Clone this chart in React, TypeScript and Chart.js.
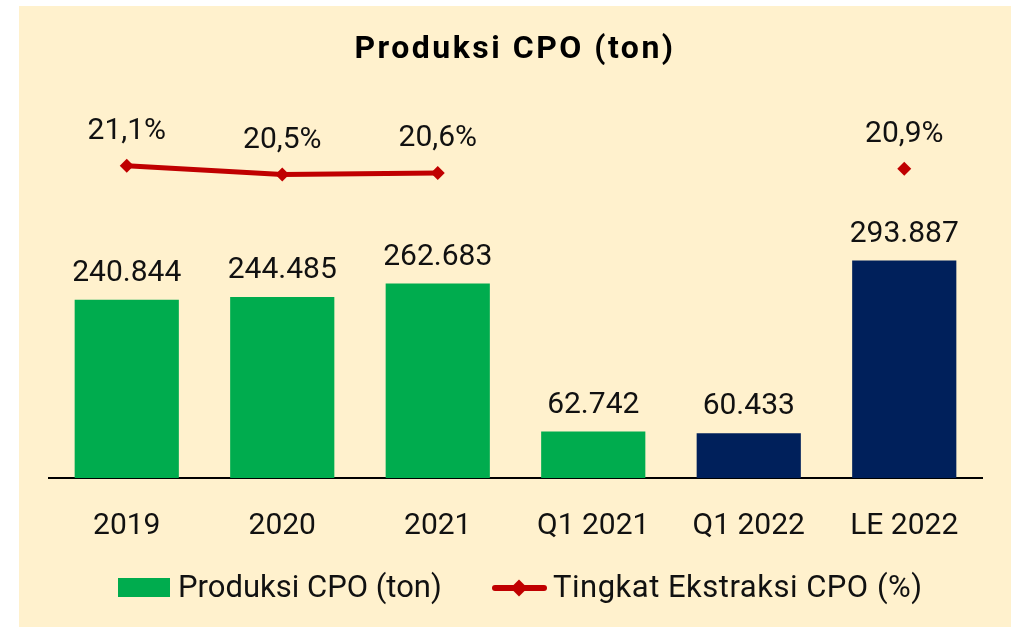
import React, { useEffect, useRef } from "react";
import { Chart, registerables } from "chart.js";

Chart.register(...registerables);

const categories = ["2019", "2020", "2021", "Q1 2021", "Q1 2022", "LE 2022"];
const produksi = [240844, 244485, 262683, 62742, 60433, 293887];
const produksiLabels = ["240.844", "244.485", "262.683", "62.742", "60.433", "293.887"];
const ekstraksi = [21.1, 20.5, 20.6, null, null, 20.9];
const ekstraksiLabels = ["21,1%", "20,5%", "20,6%", "", "", "20,9%"];
const barColors = ["#00AC4E", "#00AC4E", "#00AC4E", "#00AC4E", "#00205B", "#00205B"];

const FONT = "Roboto, 'Noto Sans', sans-serif";
const RED = "#C00000";
const CREAM = "#FFF1CD";

const labelPlugin = {
  id: "valueLabels",
  afterDatasetsDraw(chart: any) {
    const ctx = chart.ctx;
    ctx.save();
    ctx.font = `30px ${FONT}`;
    ctx.fillStyle = "#111";
    ctx.textAlign = "center";
    ctx.textBaseline = "alphabetic";
    const barMeta = chart.getDatasetMeta(0);
    barMeta.data.forEach((el: any, i: number) => {
      ctx.fillText(produksiLabels[i], el.x, el.y - 19);
    });
    const lineMeta = chart.getDatasetMeta(1);
    lineMeta.data.forEach((el: any, i: number) => {
      if (ekstraksi[i] == null) return;
      ctx.fillText(ekstraksiLabels[i], el.x, el.y - 27);
    });
    ctx.restore();
  },
};

export default function App() {
  const ref = useRef<HTMLCanvasElement>(null);
  useEffect(() => {
    if (!ref.current) return;
    const chart = new Chart(ref.current, {
      type: "bar",
      data: {
        labels: categories,
        datasets: [
          {
            type: "bar",
            label: "Produksi CPO (ton)",
            data: produksi,
            backgroundColor: barColors,
            yAxisID: "y",
            categoryPercentage: 1,
            barPercentage: 0.67,
            order: 2,
          },
          {
            type: "line",
            label: "Tingkat Ekstraksi CPO (%)",
            data: ekstraksi as any,
            borderColor: RED,
            backgroundColor: RED,
            borderWidth: 5,
            pointStyle: "rectRot",
            pointRadius: 7,
            pointBorderWidth: 0,
            spanGaps: false,
            yAxisID: "y1",
            order: 1,
          },
        ],
      },
      options: {
        animation: false,
        responsive: false,
        maintainAspectRatio: false,
        layout: { padding: { left: 30, right: 29, top: 102, bottom: 53 } },
        plugins: {
          legend: { display: false },
          tooltip: { enabled: false },
          title: { display: false },
        },
        scales: {
          x: {
            grid: { display: false, drawTicks: false },
            border: { display: true, color: "#000", width: 2 },
            ticks: {
              color: "#111",
              font: { family: FONT, size: 30 },
              padding: 30,
              maxRotation: 0,
            },
          },
          y: { display: false, min: 0, max: 500000 },
          y1: { display: false, min: 0, max: 25, position: "right" },
        },
      },
      plugins: [labelPlugin],
    });
    return () => chart.destroy();
  }, []);

  const legendText: React.CSSProperties = {
    position: "absolute",
    top: 571.3 - 6,
    font: `31px ${FONT}`,
    lineHeight: "31px",
    color: "#111",
    whiteSpace: "nowrap",
  };

  return (
    <div style={{ position: "fixed", left: 0, top: 0, width: 1016, height: 627, background: "#fff", overflow: "hidden" }}>
      <div style={{ position: "absolute", left: 19, top: 6, width: 992, height: 621, background: CREAM }}>
        <canvas ref={ref} width={992} height={621} style={{ position: "absolute", left: 0, top: 0, width: 992, height: 621 }} />
        <div
          style={{
            position: "absolute",
            left: 0,
            width: 992,
            top: 31 - 6,
            textAlign: "center",
            font: `bold 32px ${FONT}`,
            lineHeight: "32px",
            letterSpacing: "2.5px",
            color: "#000",
          }}
        >
          <span style={{ position: "relative", left: 0 }}>Produksi CPO (ton)</span>
        </div>
        <div style={{ position: "absolute", left: 118 - 19, top: 578 - 6, width: 52, height: 19, background: "#00AC4E" }} />
        <div style={{ ...legendText, left: 178 - 19, letterSpacing: "0px" }}>Produksi CPO (ton)</div>
        <div style={{ position: "absolute", left: 492 - 19, top: 588 - 6 - 3, width: 55, height: 6, background: RED, borderRadius: 3 }} />
        <div style={{ position: "absolute", left: 519 - 19 - 6, top: 588 - 6 - 6, width: 12, height: 12, background: RED, transform: "rotate(45deg)" }} />
        <div style={{ ...legendText, left: 553 - 19, letterSpacing: "0.5px" }}>Tingkat Ekstraksi CPO (%)</div>
      </div>
    </div>
  );
}
